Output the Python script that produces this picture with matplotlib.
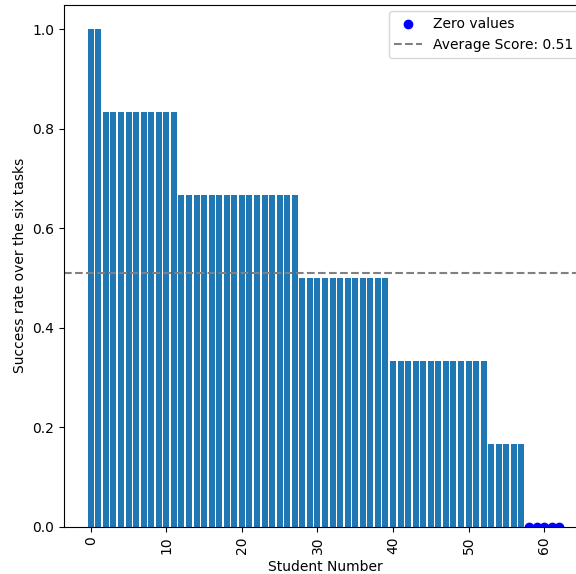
import numpy as np
import matplotlib
matplotlib.use('Agg')
from matplotlib import pyplot as plt

# success rates (tasks solved / 6), sorted high to low
levels = [6, 5, 4, 3, 2, 1, 0]
counts = [2, 10, 16, 12, 13, 5, 5]
scores = np.repeat(np.array(levels) / 6, counts)
students = np.arange(len(scores))
avg = scores.mean()

fig = plt.figure(figsize=(5.76, 5.74), dpi=100)
ax = fig.add_axes([64/576, 47/574, 522/576, 522.5/574])

ax.bar(students, scores)
zero = scores == 0
ax.scatter(students[zero], scores[zero], color='blue', label='Zero values')
ax.axhline(avg, color='gray', linestyle='--', label='Average Score: %.2f' % avg)

ax.set_xlabel('Student Number')
ax.set_ylabel('Success rate over the six tasks')
plt.xticks(rotation=90)
ax.legend(loc='upper right')

fig.savefig('out.png', dpi=100)
